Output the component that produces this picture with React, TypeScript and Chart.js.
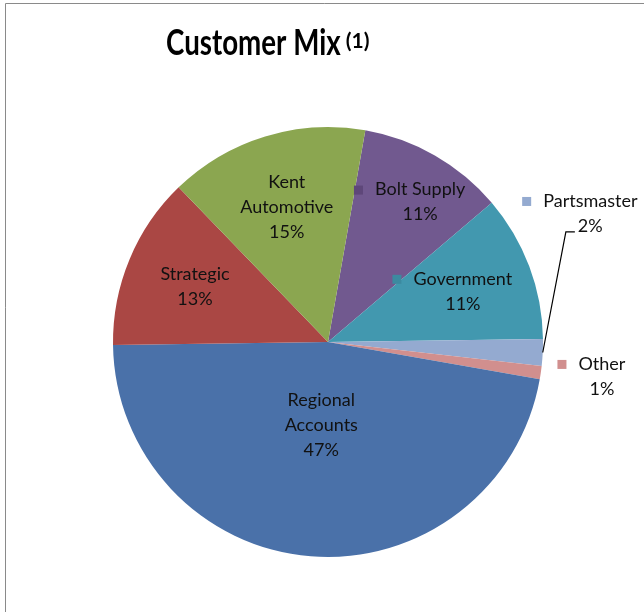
import React, { useEffect, useRef } from "react";
import { Chart, registerables } from "chart.js";
Chart.register(...registerables);

// ---- data ----
const categories = ["Bolt Supply", "Government", "Partsmaster", "Other", "Regional Accounts", "Strategic", "Kent Automotive"];
const shares = [11, 11, 2, 1, 47, 13, 15];
const sliceColors = ["#71598F", "#4298AF", "#94AAD0", "#D18F8E", "#4A71A9", "#AA4744", "#8BA650"];
const labelNameLines = [["Bolt Supply"], ["Government"], ["Partsmaster"], ["Other"], ["Regional", "Accounts"], ["Strategic"], ["Kent", "Automotive"]];
const titleText = "Customer Mix";
const titleNote = "(1)";

// ---- label style (placement relative to pie center, in units of radius) ----
type LabelStyle =
  | { kind: "inside"; frac: number; key: boolean; keyColor?: string; shift?: number }
  | { kind: "outside"; dx: number; dy: number; leader: boolean };
const labelStyles: LabelStyle[] = [
  { kind: "inside", frac: 0.75, key: true, keyColor: "#5E4779", shift: 12 },
  { kind: "inside", frac: 0.67, key: true, keyColor: "#3C8AA0", shift: 0 },
  { kind: "outside", dx: 1.22, dy: -0.656, leader: true },
  { kind: "outside", dx: 1.274, dy: 0.102, leader: false },
  { kind: "inside", frac: 0.39, key: false },
  { kind: "inside", frac: 0.67, key: false },
  { kind: "inside", frac: 0.656, key: false },
];

const FONT = "Lato, 'Open Sans', sans-serif";
const LABEL_SIZE = 18;
const LINE_H = 25;
const CONDENSE = 1.0;

function drawText(ctx: CanvasRenderingContext2D, text: string, x: number, y: number, align: "left" | "center", sx: number) {
  ctx.save();
  ctx.translate(x, y);
  ctx.scale(sx, 1);
  ctx.textAlign = align;
  ctx.fillText(text, 0, 0);
  ctx.restore();
}

const decorPlugin = {
  id: "decor",
  beforeDraw(chart: any) {
    const ctx: CanvasRenderingContext2D = chart.ctx;
    ctx.save();
    ctx.fillStyle = "#ffffff";
    ctx.fillRect(0, 0, chart.width, chart.height);
    ctx.strokeStyle = "#8a8a8a";
    ctx.lineWidth = 1;
    ctx.beginPath();
    ctx.moveTo(5.5, chart.height);
    ctx.lineTo(5.5, 3.5);
    ctx.lineTo(chart.width, 3.5);
    ctx.stroke();
    // title
    ctx.fillStyle = "#000000";
    ctx.textBaseline = "alphabetic";
    ctx.font = `bold 36px ${FONT}`;
    const sx = 0.77;
    const w = ctx.measureText(titleText).width * sx;
    const x0 = 166;
    drawText(ctx, titleText, x0, 55, "left", sx);
    ctx.font = `bold 21px ${FONT}`;
    drawText(ctx, titleNote, x0 + w + 5, 48, "left", 1.0);
    ctx.restore();
  },
  afterDraw(chart: any) {
    const ctx: CanvasRenderingContext2D = chart.ctx;
    const meta = chart.getDatasetMeta(0);
    ctx.save();
    ctx.font = `${LABEL_SIZE}px ${FONT}`;
    ctx.textBaseline = "middle";
    ctx.fillStyle = "#111111";
    meta.data.forEach((arc: any, i: number) => {
      const p = arc.getProps(["x", "y", "startAngle", "endAngle", "outerRadius"], true);
      const r = p.outerRadius;
      const mid = (p.startAngle + p.endAngle) / 2;
      const lines = [...labelNameLines[i], `${shares[i]}%`];
      const st = labelStyles[i];
      let cx: number, firstY: number;
      if (st.kind === "inside") {
        cx = p.x + Math.cos(mid) * r * st.frac + (st.shift || 0);
        const cy = p.y + Math.sin(mid) * r * st.frac;
        firstY = cy - ((lines.length - 1) * LINE_H) / 2;
      } else {
        cx = p.x + st.dx * r;
        firstY = p.y + st.dy * r;
      }
      const hasKey = st.kind === "outside" || (st.kind === "inside" && st.key);
      const firstW = ctx.measureText(lines[0]).width * CONDENSE;
      lines.forEach((ln, j) => {
        drawText(ctx, ln, cx, firstY + j * LINE_H, "center", CONDENSE);
      });
      if (hasKey) {
        const kx = cx - firstW / 2 - 21;
        ctx.fillStyle = st.kind === "inside" && st.keyColor ? st.keyColor : sliceColors[i];
        ctx.fillRect(kx, firstY - 4, 9, 9);
        ctx.fillStyle = "#111111";
      }
      if (st.kind === "outside" && st.leader) {
        const ex = p.x + Math.cos(mid) * r;
        const ey = p.y + Math.sin(mid) * r;
        const pctY = firstY + (lines.length - 1) * LINE_H + 6;
        const pctW = ctx.measureText(lines[lines.length - 1]).width * CONDENSE;
        const endX = cx - pctW / 2 - 3;
        ctx.strokeStyle = "#000000";
        ctx.lineWidth = 1.2;
        ctx.beginPath();
        ctx.moveTo(ex, ey);
        ctx.lineTo(endX - 9, pctY);
        ctx.lineTo(endX, pctY);
        ctx.stroke();
      }
    });
    ctx.restore();
  },
};

export default function App() {
  const ref = useRef<HTMLCanvasElement | null>(null);
  useEffect(() => {
    if (!ref.current) return;
    const chart = new Chart(ref.current, {
      type: "pie",
      data: {
        labels: categories,
        datasets: [
          {
            data: shares,
            backgroundColor: sliceColors,
            borderWidth: 0,
          },
        ],
      },
      options: {
        responsive: false,
        animation: false,
        rotation: 10,
        layout: { padding: { left: 113, right: 101, top: 127, bottom: 55 } },
        plugins: {
          legend: { display: false },
          tooltip: { enabled: false },
          title: { display: false },
        },
      },
      plugins: [decorPlugin],
    });
    return () => chart.destroy();
  }, []);
  return (
    <div style={{ position: "fixed", left: 0, top: 0, width: 644, height: 612, background: "#fff" }}>
      <canvas ref={ref} width={644} height={612} style={{ display: "block" }} />
    </div>
  );
}
